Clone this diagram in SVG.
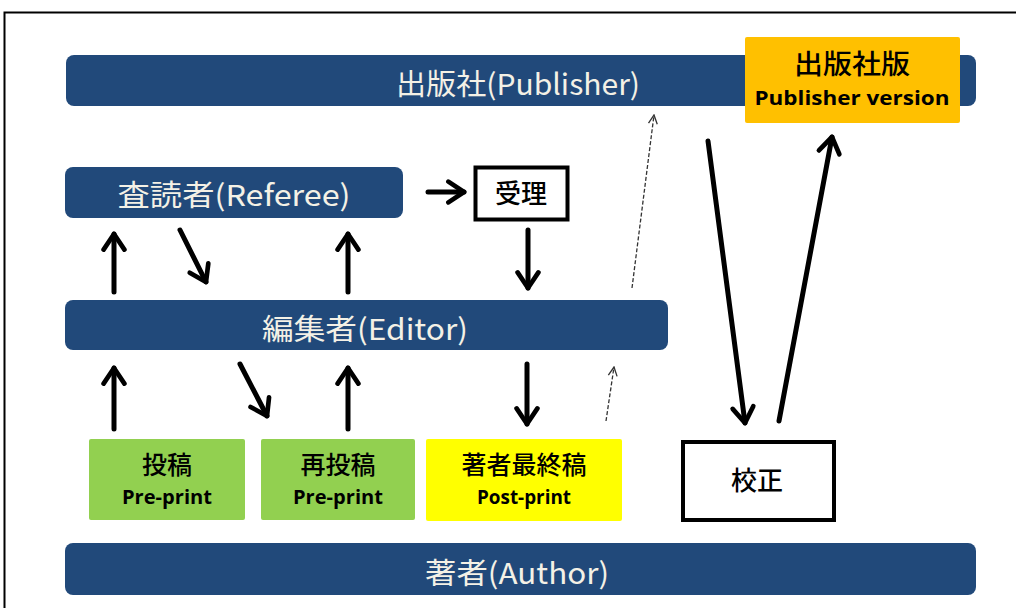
<svg xmlns="http://www.w3.org/2000/svg" width="1016" height="608" viewBox="0 0 1016 608">
<defs>
<style>
.bar{fill:#21497A;}
.bt{font-family:"Noto Sans CJK JP","Liberation Sans",sans-serif;font-size:29px;fill:#F4F1E6;text-anchor:middle;dominant-baseline:central;}
.lbl{font-family:"Noto Sans CJK JP","Liberation Sans",sans-serif;fill:#000;text-anchor:middle;dominant-baseline:central;font-weight:500;}
.sub{font-family:"Open Sans","Liberation Sans",sans-serif;font-weight:bold;fill:#000;text-anchor:middle;dominant-baseline:central;}
.thick{stroke:#000;stroke-width:5;fill:none;stroke-linecap:round;marker-end:url(#ah);}
.dash{stroke:#333;stroke-width:1.3;fill:none;stroke-dasharray:4 2;marker-end:url(#ahs);}
</style>
<marker id="ah" viewBox="0 0 10 10" refX="8" refY="5" markerWidth="5.2" markerHeight="5.2" orient="auto" markerUnits="strokeWidth">
<path d="M2,1 L8,5 L2,9" fill="none" stroke="#000" stroke-width="1.8" stroke-linecap="round" stroke-linejoin="round"/>
</marker>
<marker id="ahs" viewBox="0 0 10 10" refX="9" refY="5" markerWidth="11" markerHeight="11" orient="auto" markerUnits="userSpaceOnUse">
<path d="M1,1 L9,5 L1,9" fill="none" stroke="#333" stroke-width="1.2"/>
</marker>
</defs>
<rect x="0" y="0" width="1016" height="608" fill="#fff"/>
<path d="M4.5,608 V12.5 H1016" fill="none" stroke="#000" stroke-width="2"/>

<g id="publisher"><rect class="bar" x="66" y="55" width="910" height="51" rx="8"/><text class="bt" x="518" y="82" textLength="244" lengthAdjust="spacingAndGlyphs">出版社(Publisher)</text></g>
<g id="publisher-version"><rect x="745" y="37" width="215" height="86" rx="2" fill="#FFC000"/><text class="lbl" x="852" y="62" font-size="27" font-weight="bold" textLength="116" lengthAdjust="spacingAndGlyphs">出版社版</text><text class="sub" x="852" y="97" font-size="20" textLength="195" lengthAdjust="spacingAndGlyphs">Publisher version</text></g>
<g id="referee"><rect class="bar" x="65" y="167" width="338" height="51" rx="8"/><text class="bt" x="234" y="193" textLength="233" lengthAdjust="spacingAndGlyphs">査読者(Referee)</text></g>
<g id="accept"><rect x="475.5" y="167.5" width="92" height="52" fill="#fff" stroke="#000" stroke-width="4"/><text class="lbl" x="521" y="191" font-size="26">受理</text></g>
<g id="editor"><rect class="bar" x="65" y="300" width="603" height="50" rx="8"/><text class="bt" x="365" y="327" textLength="206" lengthAdjust="spacingAndGlyphs">編集者(Editor)</text></g>
<g id="submit"><rect x="89" y="439" width="156" height="81" rx="2" fill="#92D050"/><text class="lbl" x="167" y="463" font-size="25">投稿</text><text class="sub" x="167" y="497" font-size="19" textLength="90" lengthAdjust="spacingAndGlyphs">Pre-print</text></g>
<g id="resubmit"><rect x="261" y="439" width="154" height="81" rx="2" fill="#92D050"/><text class="lbl" x="338" y="463" font-size="25">再投稿</text><text class="sub" x="338" y="497" font-size="19" textLength="90" lengthAdjust="spacingAndGlyphs">Pre-print</text></g>
<g id="postprint"><rect x="426" y="439" width="196" height="82" rx="2" fill="#FFFF00"/><text class="lbl" x="524" y="463" font-size="25">著者最終稿</text><text class="sub" x="524" y="497" font-size="19" textLength="94" lengthAdjust="spacingAndGlyphs">Post-print</text></g>
<g id="proof"><rect x="683" y="442" width="151" height="78" fill="#fff" stroke="#000" stroke-width="4"/><text class="lbl" x="757" y="478" font-size="26">校正</text></g>
<g id="author"><rect class="bar" x="65" y="543" width="911" height="52" rx="8"/><text class="bt" x="517" y="571" textLength="184" lengthAdjust="spacingAndGlyphs">著者(Author)</text></g>

<g id="connectors">
<line class="thick" x1="428" y1="192" x2="464" y2="192"/>
<line class="thick" x1="114" y1="292" x2="114" y2="234"/>
<line class="thick" x1="180" y1="230" x2="206" y2="282"/>
<line class="thick" x1="348" y1="292" x2="348" y2="234"/>
<line class="thick" x1="528" y1="230" x2="528" y2="288"/>
<line class="thick" x1="114" y1="429" x2="114" y2="368"/>
<line class="thick" x1="240" y1="364" x2="267" y2="416"/>
<line class="thick" x1="348" y1="429" x2="348" y2="368"/>
<line class="thick" x1="527" y1="364" x2="527" y2="424"/>
<line class="thick" x1="708" y1="141" x2="745" y2="423"/>
<line class="thick" x1="779" y1="421" x2="832" y2="137"/>
<line class="dash" x1="606" y1="421" x2="614" y2="367"/>
<line class="dash" x1="632" y1="288" x2="654" y2="115"/>
</g>
</svg>
